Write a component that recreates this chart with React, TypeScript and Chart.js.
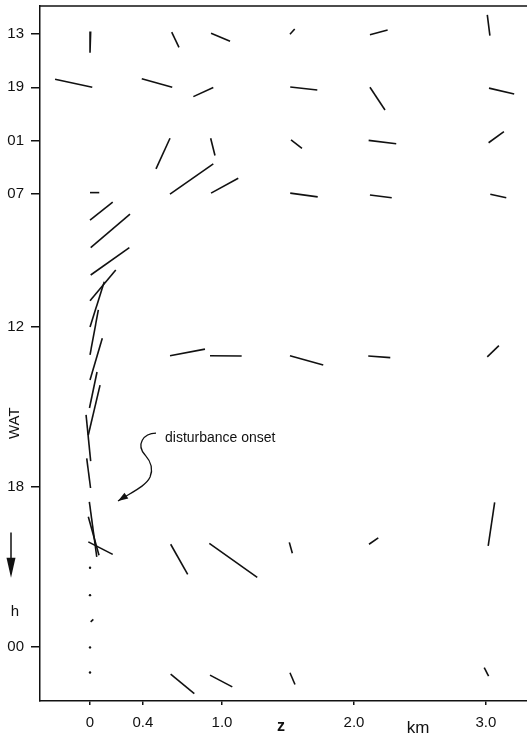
import React, { useEffect, useRef } from 'react';
import { Chart, registerables } from 'chart.js';

Chart.register(...registerables);

// y: plotted time in hours after 07 WAT (before 07 the previous day is drawn compressed 3:1)
const timeTickValues = [-6, -4, -2, 0, 5, 11, 17];
const timeTickLabels = ['13', '19', '01', '07', '12', '18', '00'];
// x: height z in km
const heightTickValues = [0, 0.4, 1.0, 2.0, 3.0];
const heightTickLabels = ['0', '0.4', '1.0', '2.0', '3.0'];

// wind sticks: [z start, t start, z end, t end]
const sticks13 = [
  [0.005, -6.09, 0.0, -5.3],
  [0.619, -6.07, 0.674, -5.5],
  [0.917, -6.03, 1.061, -5.73],
  [1.515, -5.99, 1.551, -6.19],
  [2.121, -5.97, 2.255, -6.15],
  [3.03, -5.94, 3.01, -6.72],
];
const sticks19 = [
  [0.017, -4.0, -0.265, -4.3],
  [0.623, -4.0, 0.392, -4.32],
  [0.934, -3.99, 0.783, -3.65],
  [1.517, -4.01, 1.722, -3.9],
  [2.121, -4.0, 2.235, -3.15],
  [3.023, -3.97, 3.214, -3.75],
];
const sticks01 = [
  [0.606, -2.09, 0.5, -0.94],
  [0.914, -2.09, 0.947, -1.44],
  [1.523, -2.03, 1.606, -1.71],
  [2.111, -2.01, 2.32, -1.88],
  [3.02, -1.92, 3.136, -2.34],
];
const sticks07 = [
  [0.0, -0.05, 0.07, -0.05],
  [0.606, 0.01, 0.934, -1.13],
  [0.917, -0.03, 1.123, -0.59],
  [1.517, -0.03, 1.725, 0.11],
  [2.121, 0.04, 2.286, 0.14],
  [3.033, 0.01, 3.154, 0.14],
];
const sticksSurface = [
  [0.0, 0.98, 0.172, 0.31],
  [0.005, 2.01, 0.303, 0.76],
  [0.005, 3.04, 0.298, 2.01],
  [0.0, 4.01, 0.195, 2.85],
  [0.0, 4.99, 0.108, 3.29],
  [0.0, 6.04, 0.063, 4.35],
  [0.0, 6.98, 0.093, 5.41],
  [-0.004, 8.03, 0.053, 6.68],
  [-0.013, 9.04, 0.076, 7.17],
  [0.005, 10.02, -0.03, 8.29],
  [0.004, 11.03, -0.025, 9.92],
  [-0.005, 11.55, 0.051, 13.61],
  [-0.013, 12.11, 0.068, 13.55],
  [-0.013, 13.05, 0.172, 13.52],
  [0.005, 16.05, 0.025, 15.96],
];
const calmTimes = [14.02, 15.05, 17.01, 17.95];
const sticks13h = [
  [0.606, 6.07, 0.871, 5.82],
  [0.909, 6.07, 1.149, 6.08],
  [1.515, 6.07, 1.767, 6.42],
  [2.108, 6.08, 2.275, 6.14],
  [3.01, 6.11, 3.098, 5.69],
];
const sticks20h = [
  [0.611, 13.14, 0.74, 14.27],
  [0.904, 13.11, 1.267, 14.38],
  [1.51, 13.07, 1.533, 13.48],
  [2.114, 13.14, 2.184, 12.9],
  [3.017, 13.2, 3.066, 11.57],
];
const sticks01h = [
  [0.611, 18.01, 0.79, 18.74],
  [0.909, 18.05, 1.078, 18.49],
  [1.515, 17.96, 1.553, 18.4],
  [3.02, 18.09, 2.987, 17.77],
];

// annotation "disturbance onset" and its curly arrow (data coords)
const noteText = 'disturbance onset';
const noteZ = 0.568;
const noteT = 9.16;
const curlZ = [0.5, 0.402, 0.348, 0.417, 0.47, 0.477, 0.455, 0.424, 0.318, 0.212];
const curlT = [8.97, 8.97, 9.42, 9.79, 10.09, 10.36, 10.62, 10.96, 11.18, 11.52];

const FONT = '"Liberation Sans", Arial, Helvetica, sans-serif';
const INK = '#111';

const annotationPlugin = {
  id: 'annot',
  afterDraw(chart: any) {
    const ctx = chart.ctx;
    const xs = chart.scales.x;
    const ys = chart.scales.y;
    const { left, right, top, bottom } = chart.chartArea;
    ctx.save();
    ctx.strokeStyle = INK;
    ctx.fillStyle = INK;
    // top frame line
    ctx.lineWidth = 1.5;
    ctx.beginPath();
    ctx.moveTo(left - 0.75, top);
    ctx.lineTo(right, top);
    ctx.stroke();

    // note text
    ctx.font = '14px ' + FONT;
    ctx.textAlign = 'left';
    ctx.textBaseline = 'middle';
    ctx.fillText(noteText, xs.getPixelForValue(noteZ), ys.getPixelForValue(noteT));

    // curly arrow
    const P = curlZ.map((z, i) => [xs.getPixelForValue(z), ys.getPixelForValue(curlT[i])]);
    ctx.lineWidth = 1.3;
    ctx.beginPath();
    ctx.moveTo(P[0][0], P[0][1]);
    ctx.bezierCurveTo(P[1][0], P[1][1], P[2][0], P[2][1], P[3][0], P[3][1]);
    ctx.bezierCurveTo(P[4][0], P[4][1], P[5][0], P[5][1], P[6][0], P[6][1]);
    ctx.bezierCurveTo(P[7][0], P[7][1], P[8][0], P[8][1], P[9][0], P[9][1]);
    ctx.stroke();
    const tip = P[9];
    const ang = Math.atan2(P[9][1] - P[8][1], P[9][0] - P[8][0]);
    const L = 10, W = 3.5;
    ctx.beginPath();
    ctx.moveTo(tip[0], tip[1]);
    ctx.lineTo(tip[0] - L * Math.cos(ang) - W * Math.sin(ang), tip[1] - L * Math.sin(ang) + W * Math.cos(ang));
    ctx.lineTo(tip[0] - L * Math.cos(ang) + W * Math.sin(ang), tip[1] - L * Math.sin(ang) - W * Math.cos(ang));
    ctx.closePath();
    ctx.fill();

    // y-axis title: WAT, arrow, h
    const tx = left - 26;
    ctx.save();
    ctx.translate(tx + 1, ys.getPixelForValue(8.6));
    ctx.rotate(-Math.PI / 2);
    ctx.font = '15px ' + FONT;
    ctx.textAlign = 'center';
    ctx.textBaseline = 'middle';
    ctx.fillText('WAT', 0, 0);
    ctx.restore();
    const a0 = ys.getPixelForValue(12.7);
    const a1 = ys.getPixelForValue(14.4);
    ctx.lineWidth = 1.5;
    ctx.beginPath();
    ctx.moveTo(tx - 3, a0);
    ctx.lineTo(tx - 3, a1 - 10);
    ctx.stroke();
    ctx.beginPath();
    ctx.moveTo(tx - 3, a1);
    ctx.lineTo(tx - 7.5, a1 - 20);
    ctx.lineTo(tx + 1.5, a1 - 20);
    ctx.closePath();
    ctx.fill();
    ctx.font = '15px ' + FONT;
    ctx.textAlign = 'center';
    ctx.textBaseline = 'middle';
    ctx.fillText('h', tx + 1, ys.getPixelForValue(15.68));

    // x-axis title: z ... km
    ctx.font = 'bold 16px ' + FONT;
    ctx.fillText('z', xs.getPixelForValue(1.447), bottom + 26);
    ctx.font = '17px ' + FONT;
    ctx.fillText('km', xs.getPixelForValue(2.485), bottom + 27);
    ctx.restore();
  },
};

function buildDatasets() {
  const all = [
    ...sticks13,
    ...sticks19,
    ...sticks01,
    ...sticks07,
    ...sticksSurface,
    ...sticks13h,
    ...sticks20h,
    ...sticks01h,
  ];
  const ds: any[] = all.map((s) => ({
    type: 'scatter',
    data: [
      { x: s[0], y: s[1] },
      { x: s[2], y: s[3] },
    ],
    showLine: true,
    borderColor: INK,
    backgroundColor: INK,
    borderWidth: 1.6,
    pointRadius: 0,
    pointHoverRadius: 0,
    fill: false,
  }));
  ds.push({
    type: 'scatter',
    data: calmTimes.map((t) => ({ x: 0, y: t })),
    showLine: false,
    pointRadius: 1.2,
    pointHoverRadius: 1.2,
    pointBorderWidth: 0,
    backgroundColor: INK,
    borderColor: INK,
  });
  return ds;
}

export default function App() {
  const ref = useRef<HTMLCanvasElement | null>(null);
  useEffect(() => {
    if (!ref.current) return;
    const chart = new Chart(ref.current, {
      type: 'scatter',
      data: { datasets: buildDatasets() },
      options: {
        animation: false,
        responsive: false,
        maintainAspectRatio: false,
        layout: { autoPadding: false, padding: { top: 6, right: 0, left: 0, bottom: 0 } },
        plugins: { legend: { display: false }, tooltip: { enabled: false } },
        scales: {
          x: {
            type: 'linear',
            min: -0.379,
            max: 3.311,
            afterBuildTicks: (s: any) => {
              s.ticks = heightTickValues.map((v) => ({ value: v }));
            },
            afterFit: (s: any) => {
              s.height = 36;
              s.paddingLeft = 0;
              s.paddingRight = 0;
            },
            ticks: {
              autoSkip: false,
              maxRotation: 0,
              padding: 9,
              color: INK,
              font: { family: FONT, size: 15 },
              callback: (v: any) => heightTickLabels[heightTickValues.indexOf(Number(v))] ?? '',
            },
            grid: { drawOnChartArea: false, drawTicks: true, tickLength: 4, color: INK, lineWidth: 1.5 },
            border: { display: true, color: INK, width: 1.5 },
          },
          y: {
            type: 'linear',
            reverse: true,
            min: -7.05,
            max: 19.02,
            afterBuildTicks: (s: any) => {
              s.ticks = timeTickValues.map((v) => ({ value: v }));
            },
            afterFit: (s: any) => {
              s.width = 40;
              s.paddingTop = 0;
              s.paddingBottom = 0;
            },
            ticks: {
              autoSkip: false,
              padding: 7,
              color: INK,
              font: { family: FONT, size: 15 },
              callback: (v: any) => timeTickLabels[timeTickValues.indexOf(Number(v))] ?? '',
            },
            grid: { drawOnChartArea: false, drawTicks: true, tickLength: 9, color: INK, lineWidth: 1.5 },
            border: { display: true, color: INK, width: 1.5 },
          },
        },
      },
      plugins: [annotationPlugin],
    } as any);
    return () => chart.destroy();
  }, []);
  return (
    <div style={{ position: 'absolute', left: 0, top: 0, width: 527, height: 737, background: '#fff' }}>
      <canvas ref={ref} width={527} height={737} style={{ display: 'block' }} />
    </div>
  );
}
